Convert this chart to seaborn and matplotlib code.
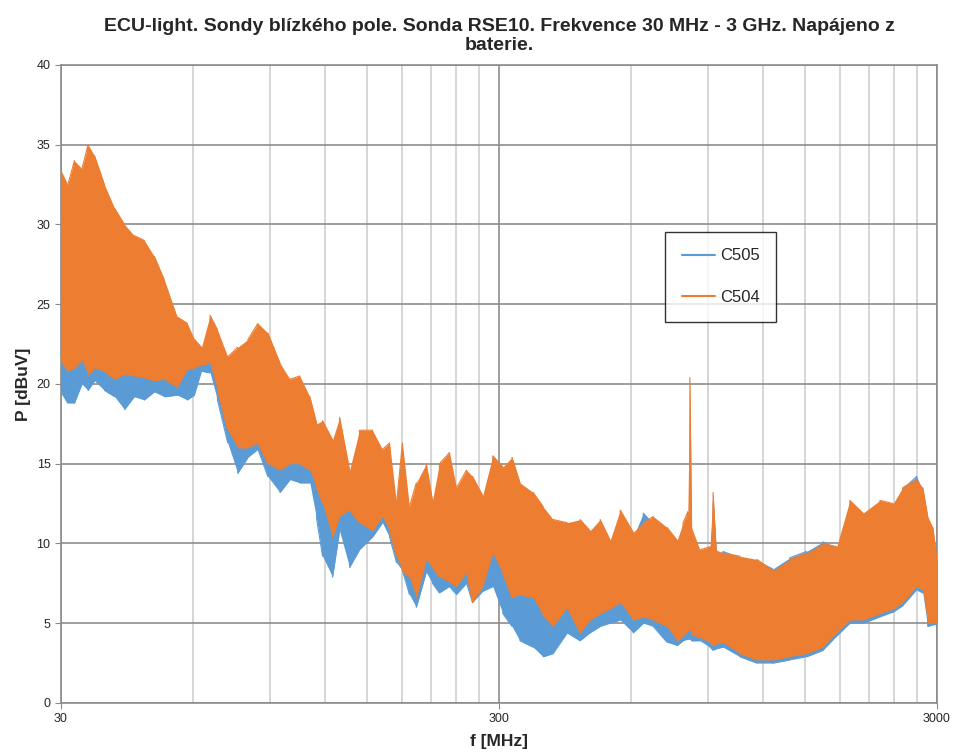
import numpy as np
import pandas as pd
import matplotlib
matplotlib.use('Agg')
import matplotlib.pyplot as plt
import seaborn as sns
from matplotlib.ticker import FixedLocator, NullFormatter

sns.set_style('white')
plt.rcParams['font.family'] = ['Liberation Sans', 'DejaVu Sans']

# frequency points [MHz]
freq = [30, 31.1, 32.2, 33.5, 34.6, 35.8, 37.7, 39.8, 41.9, 44.1, 46.5, 49.0, 51.7, 55.3,
        58.3, 60.5, 62.8, 65.7, 68.3, 72.1, 76.0, 80.2, 84.5, 89.0, 94.9, 100.0, 105.3,
        111.0, 115.1, 118.7, 125.1, 129.8, 136.8, 144.1, 154.3, 162.6, 168.8, 175.1,
        180.6, 187.4, 194.3, 204.7, 211.5, 219.4, 231.3, 240.0, 253.0, 261.1, 275.4,
        290.4, 306.3, 321.3, 335.1, 359.1, 378.6, 398.9, 429.7, 459.7, 484.3, 510.8,
        538.4, 567.6, 607.7, 640.9, 675.3, 726.3, 765.5, 789.9, 810, 818.5, 826, 862.9,
        910, 924.8, 940, 973.9, 1064.8, 1164.3, 1266, 1383.6, 1512, 1647.4, 1771, 1898,
        2034, 2224, 2383, 2506, 2697, 2785, 2858, 2937, 3000]

# C504 (orange) upper / lower envelope [dBuV]
c504_hi = [33.4, 32.5, 34.0, 33.5, 35.0, 34.3, 32.5, 31.0, 30.0, 29.3, 29.0, 28.0, 26.5, 24.2,
           23.8, 22.8, 22.3, 24.3, 23.4, 21.7, 22.3, 22.8, 23.8, 23.2, 21.3, 20.3, 20.5,
           19.2, 17.5, 17.7, 16.5, 17.9, 14.6, 17.1, 17.1, 15.9, 16.3, 12.5,
           16.3, 12.3, 13.8, 15.0, 12.7, 15.0, 15.7, 13.5, 14.6, 14.2, 13.0,
           15.5, 14.8, 15.4, 13.8, 13.2, 12.3, 11.5, 11.3, 11.5, 10.8, 11.5,
           10.2, 12.1, 10.7, 11.3, 11.7, 11.0, 10.2, 11.3, 12.0, 20.4, 11.0, 9.6,
           9.8, 13.2, 9.6, 9.4, 9.2, 9.0, 8.3, 9.0, 9.4, 10.0, 9.8, 12.7,
           11.9, 12.7, 12.5, 13.5, 14.0, 13.5, 11.7, 11.0, 9.0]
c504_lo = [21.5, 20.8, 21.0, 21.5, 20.6, 21.0, 20.8, 20.3, 20.6, 20.5, 20.4, 20.2, 20.3, 19.8,
           20.9, 21.0, 21.2, 21.3, 19.6, 17.1, 16.0, 16.0, 16.3, 15.0, 14.6, 15.0, 15.0,
           14.6, 13.5, 12.5, 10.4, 11.7, 12.1, 11.3, 10.8, 11.7, 10.8, 9.2,
           8.3, 7.9, 6.6, 9.0, 8.5, 7.9, 7.6, 7.3, 8.2, 6.3, 7.3,
           9.4, 8.1, 6.6, 6.8, 6.6, 5.5, 4.8, 6.0, 4.4, 5.2, 5.6,
           5.9, 6.3, 5.2, 5.4, 5.2, 4.8, 3.9, 4.2, 4.5, 4.6, 4.3, 4.1,
           3.8, 3.6, 3.7, 3.8, 3.1, 2.7, 2.7, 2.9, 3.1, 3.5, 4.4, 5.2,
           5.2, 5.6, 5.9, 6.3, 7.3, 7.1, 5.0, 5.0, 5.0]

# C505 (blue) upper / lower envelope [dBuV]
c505_hi = [32.8, 31.5, 33.6, 32.8, 33.8, 33.5, 31.8, 30.2, 29.3, 28.6, 28.3, 27.2, 25.8, 23.5,
           23.0, 22.0, 21.6, 23.4, 22.6, 21.0, 21.6, 22.0, 23.0, 22.4, 20.6, 19.6, 19.8,
           18.5, 16.8, 17.0, 15.8, 17.2, 14.0, 16.4, 16.4, 15.2, 15.6, 12.0,
           15.6, 11.8, 13.2, 14.4, 12.2, 14.4, 15.0, 13.0, 14.0, 13.6, 12.5,
           14.8, 14.2, 14.7, 13.2, 12.6, 11.8, 11.0, 10.8, 11.0, 10.3, 11.0,
           9.8, 11.6, 10.4, 11.9, 11.2, 10.6, 9.8, 10.8, 11.5, 13.0, 10.5, 9.3,
           9.5, 12.6, 9.4, 9.5, 9.1, 8.9, 8.4, 9.1, 9.5, 10.1, 9.7, 12.3,
           11.6, 12.4, 12.3, 13.4, 14.2, 13.3, 11.5, 10.8, 8.8]
c505_lo = [19.5, 18.8, 18.8, 20.0, 19.6, 20.2, 19.6, 19.2, 18.4, 19.2, 19.0, 19.5, 19.2, 19.3,
           19.0, 19.3, 20.8, 20.7, 19.0, 16.3, 14.4, 15.4, 15.9, 14.2, 13.2, 14.0, 13.8,
           13.8, 11.5, 9.2, 7.9, 10.8, 8.5, 9.6, 10.4, 11.3, 10.4, 8.8,
           8.3, 6.8, 6.0, 8.2, 7.5, 6.9, 7.3, 6.8, 7.5, 6.3, 7.0,
           7.3, 5.6, 4.8, 3.9, 3.5, 2.9, 3.1, 4.4, 3.9, 4.4, 4.8,
           5.0, 5.2, 4.4, 5.0, 4.8, 3.8, 3.6, 3.9, 4.0, 4.0, 3.9, 3.9,
           3.5, 3.3, 3.4, 3.5, 2.9, 2.5, 2.5, 2.7, 2.9, 3.3, 4.2, 5.0,
           5.0, 5.4, 5.7, 6.1, 7.1, 6.9, 4.8, 4.9, 4.9]

series = ['C505', 'C504']
colors = {'C505': '#5B9BD5', 'C504': '#ED7D31'}
env = {'C505': (c505_hi, c505_lo), 'C504': (c504_hi, c504_lo)}

# zigzag trace between the envelopes, one stroke per frequency point
rows = []
for name in series:
    hi, lo = env[name]
    for i, f in enumerate(freq):
        pair = (hi[i], lo[i]) if i % 2 == 0 else (lo[i], hi[i])
        for v in pair:
            rows.append((name, f, v))
df = pd.DataFrame(rows, columns=['probe', 'f', 'P'])

fig = plt.figure(figsize=(9.54, 7.52), dpi=100)
ax = fig.add_axes([0.0639, 0.0652, 0.9182, 0.8484])
ax.set_xscale('log')

# blue first, orange on top of it
for k, name in enumerate(series):
    hi, lo = env[name]
    ax.fill_between(freq, lo, hi, color=colors[name], lw=0, zorder=2 + 2 * k)
    sns.lineplot(data=df[df.probe == name], x='f', y='P', color=colors[name], label=name,
                 sort=False, estimator=None, lw=0.8, ax=ax, zorder=3 + 2 * k)

ax.set_xlim(30, 3000)
ax.set_ylim(0, 40)
ax.set_yticks(np.arange(0, 41, 5))
ax.xaxis.set_major_locator(FixedLocator([30, 300, 3000]))
ax.set_xticklabels(['30', '300', '3000'])
ax.xaxis.set_minor_locator(FixedLocator([60, 90, 120, 150, 180, 210, 240, 270,
                                         600, 900, 1200, 1500, 1800, 2100, 2400, 2700]))
ax.xaxis.set_minor_formatter(NullFormatter())
ax.grid(True, which='major', axis='y', color='#8C8C8C', lw=1.2, zorder=0)
ax.grid(True, which='major', axis='x', color='#8C8C8C', lw=1.2, zorder=0)
ax.grid(True, which='minor', axis='x', color='#D0D0D0', lw=1.2, zorder=0)
ax.set_axisbelow(True)
for s in ax.spines.values():
    s.set_color('#8C8C8C')
    s.set_linewidth(1.2)
ax.tick_params(axis='both', which='major', labelsize=9, length=4, color='#8C8C8C',
               direction='out', left=True, bottom=True)
ax.tick_params(axis='x', which='minor', length=0)

ax.set_xlabel('f [MHz]', fontsize=12.5, fontweight='bold', labelpad=6)
ax.set_ylabel('P [dBuV]', fontsize=12.5, fontweight='bold', labelpad=4)
ax.set_title('ECU-light. Sondy blízkého pole. Sonda RSE10. Frekvence 30 MHz - 3 GHz. Napájeno z\nbaterie.',
             fontsize=14, fontweight='bold', pad=11, linespacing=1.15)

leg = ax.legend(loc='upper left', bbox_to_anchor=(0.6895, 0.7385), frameon=True, fancybox=False,
                edgecolor='black', fontsize=12, labelspacing=1.6, borderpad=1.0,
                handlelength=2.0, handletextpad=0.3, borderaxespad=0)
leg.get_frame().set_linewidth(1.0)
for line in leg.get_lines():
    line.set_linewidth(1.5)

fig.savefig('out.png', dpi=100)
